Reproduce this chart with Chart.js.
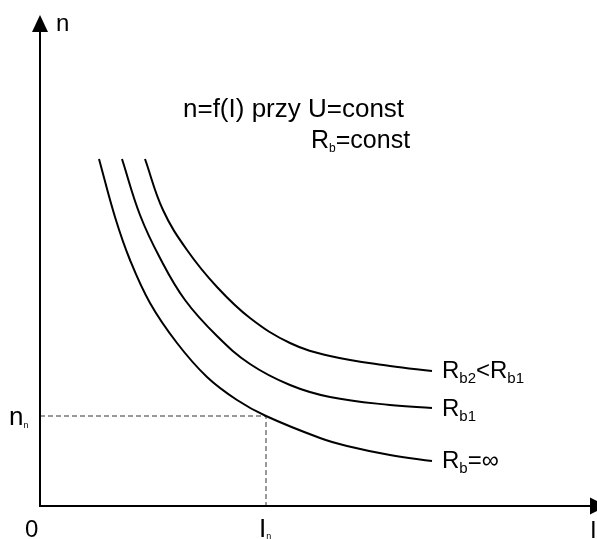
<!DOCTYPE html>
<html>
<head>
<meta charset="utf-8">
<script src="https://cdn.jsdelivr.net/npm/chart.js@4.4.0/dist/chart.umd.min.js"></script>
<style>
  html, body { margin: 0; padding: 0; background: #fff; }
  #wrap { width: 597px; height: 539px; position: relative; }
</style>
</head>
<body>
<div id="wrap"><canvas id="c" width="597" height="539"></canvas></div>
<script>
// ---- data (arbitrary units: I horizontally, n vertically) ----
const xMax = 557, yMax = 491;

const I_Rbinf = [59, 75, 90, 110, 137, 167, 197, 226, 280, 307, 350, 392];
const n_Rbinf = [347, 289, 246, 203, 163, 129, 106, 90, 68, 60, 51, 45];

const I_Rb1 = [82, 100, 120, 145, 177, 210, 250, 290, 350, 392];
const n_Rb1 = [347, 291, 248, 206, 170, 142, 121, 109, 101, 98];

const I_Rb2 = [105, 123, 147, 177, 210, 250, 290, 350, 392];
const n_Rb2 = [347, 296, 256, 219, 188, 163, 150, 140, 135];

const nominalI = 226;   // I_n
const nominalN = 90;    // n_n

const seriesNames = ['R_b2<R_b1', 'R_b1', 'R_b=∞'];
const titleLines = ['n=f(I) przy U=const', 'R_b=const'];
const axisLabels = { origin: '0', y: 'n', x: 'I', yTick: 'n', yTickSub: 'n', xTick: 'I', xTickSub: 'n' };

function pts(xs, ys) { return xs.map((x, i) => ({ x: x, y: ys[i] })); }

const curveStyle = {
  showLine: true, borderColor: '#000', borderWidth: 2, pointRadius: 0,
  tension: 0.4, fill: false
};

const FONT = '"Liberation Sans", Arial, sans-serif';

function drawSub(ctx, parts, x, y) {
  let cx = x;
  for (const [t, size, dy] of parts) {
    ctx.font = size + 'px ' + FONT;
    ctx.fillText(t, cx, y + dy);
    cx += ctx.measureText(t).width;
  }
  return cx;
}

const decor = {
  id: 'decor',
  afterDatasetsDraw(chart) {
    const ctx = chart.ctx;
    const xs = chart.scales.x, ys = chart.scales.y;
    const x0 = xs.getPixelForValue(0), y0 = ys.getPixelForValue(0);
    const yTop = ys.getPixelForValue(yMax);
    const xEnd = xs.getPixelForValue(xMax);
    ctx.save();
    ctx.strokeStyle = '#000'; ctx.fillStyle = '#000';
    ctx.lineWidth = 2;
    // axes
    ctx.beginPath();
    ctx.moveTo(x0, y0 + 1); ctx.lineTo(x0, yTop + 14);
    ctx.moveTo(x0 - 1, y0); ctx.lineTo(xEnd - 5, y0);
    ctx.stroke();
    // arrowheads
    ctx.beginPath();
    ctx.moveTo(x0, yTop); ctx.lineTo(x0 - 8, yTop + 17); ctx.lineTo(x0 + 8, yTop + 17); ctx.closePath();
    ctx.fill();
    ctx.beginPath();
    ctx.moveTo(xEnd + 10, y0); ctx.lineTo(xEnd - 7, y0 - 8.5); ctx.lineTo(xEnd - 7, y0 + 8.5); ctx.closePath();
    ctx.fill();

    ctx.textBaseline = 'alphabetic';
    ctx.textAlign = 'left';
    // axis labels
    ctx.font = '24px ' + FONT;
    ctx.fillText(axisLabels.y, x0 + 16, yTop + 16);
    ctx.fillText(axisLabels.origin, x0 - 15, y0 + 31);
    ctx.fillText(axisLabels.x, xEnd - 7, y0 + 32);
    // n_n tick label
    const yn = ys.getPixelForValue(nominalN);
    drawSub(ctx, [[axisLabels.yTick, 26, 0], [axisLabels.yTickSub, 9, 3]], x0 - 31, yn + 9);
    // I_n tick label
    const xn = xs.getPixelForValue(nominalI);
    drawSub(ctx, [[axisLabels.xTick, 26, 0], [axisLabels.xTickSub, 9, 2]], xn - 7, y0 + 31);

    // title
    ctx.font = '26px ' + FONT;
    ctx.fillText(titleLines[0], 183, 117);
    drawSub(ctx, [['R', 25, 0], ['b', 12, 4], ['=const', 25, 0]], 311, 148);

    // series labels
    const lx = xs.getPixelForValue(I_Rb2[I_Rb2.length - 1]) + 10;
    drawSub(ctx, [['R', 24, 0], ['b2', 15, 5], ['<R', 24, 0], ['b1', 15, 5]], lx, 378);
    drawSub(ctx, [['R', 24, 0], ['b1', 15, 5]], lx, 416);
    drawSub(ctx, [['R', 24, 0], ['b', 15, 5], ['=∞', 24, 0]], lx, 468);
    ctx.restore();
  }
};

new Chart(document.getElementById('c'), {
  type: 'scatter',
  data: {
    datasets: [
      Object.assign({ label: seriesNames[2], data: pts(I_Rbinf, n_Rbinf) }, curveStyle),
      Object.assign({ label: seriesNames[1], data: pts(I_Rb1, n_Rb1) }, curveStyle),
      Object.assign({ label: seriesNames[0], data: pts(I_Rb2, n_Rb2) }, curveStyle),
      {
        label: 'nominal', data: [{ x: 0, y: nominalN }, { x: nominalI, y: nominalN }, { x: nominalI, y: 0 }],
        showLine: true, tension: 0, borderColor: '#333', borderWidth: 1, borderDash: [5, 3], pointRadius: 0, fill: false
      }
    ]
  },
  options: {
    responsive: false,
    animation: false,
    layout: { padding: { left: 40, top: 15, right: 0, bottom: 33 } },
    plugins: { legend: { display: false }, tooltip: { enabled: false }, title: { display: false } },
    scales: {
      x: { type: 'linear', min: 0, max: xMax, display: false },
      y: { type: 'linear', min: 0, max: yMax, display: false }
    }
  },
  plugins: [decor]
});
</script>
</body>
</html>
